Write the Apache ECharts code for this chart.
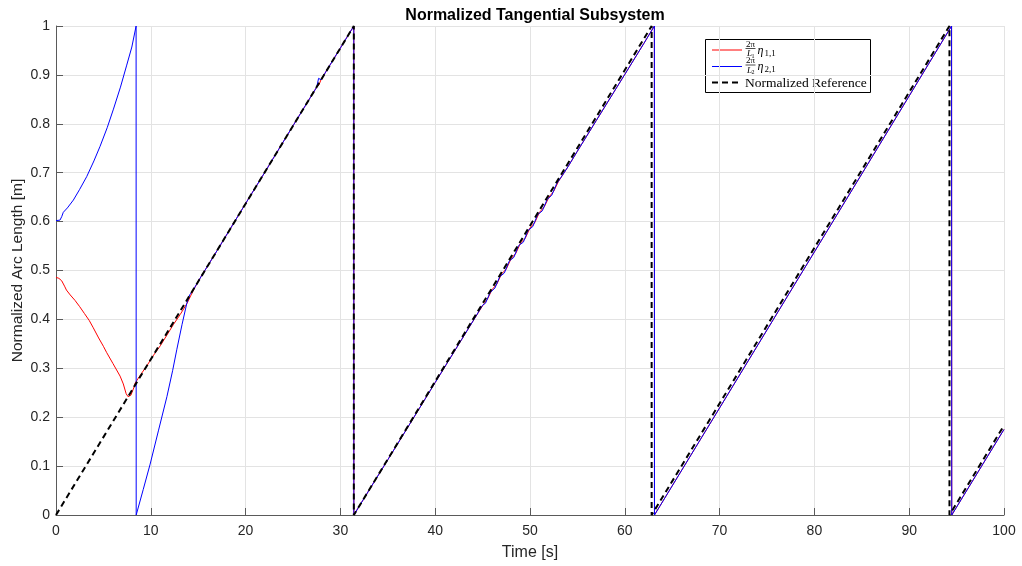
<!DOCTYPE html>
<html>
<head>
<meta charset="utf-8">
<script src="https://cdn.jsdelivr.net/npm/echarts@6/dist/echarts.min.js"></script>
<style>html,body{margin:0;padding:0;background:#fff;}#c{width:1022px;height:566px;}</style>
</head>
<body>
<div id="c"></div>
<script>
// ---- data (time [s], normalized value) ----
const titleText = 'Normalized Tangential Subsystem';
const xName = 'Time [s]';
const yName = 'Normalized Arc Length [m]';
const refName = 'Normalized Reference';

const refData = [[0,0],[31.416,1],[31.416,0],[62.832,1],[62.832,0],[94.248,1],[94.248,0],[100,0.1831]];

const commonTail = [
  [17,0.541],[20,0.637],[22,0.700],[25,0.796],[27.5,0.875]
];
const redP1 = [
  [0,0.486],[0.3,0.484],[0.6,0.479],[0.9,0.468],[1.1,0.460],[1.5,0.450],[2.0,0.439],[2.5,0.426],
  [3.0,0.412],[3.5,0.398],[3.9,0.384],[4.5,0.362],[5.0,0.345],[5.35,0.332],[6.0,0.310],[6.76,0.284],
  [7.1,0.268],[7.4,0.248],[7.6,0.242],[7.75,0.241],[7.9,0.245],[8.0,0.249],[8.2,0.260],[8.35,0.270],
  [9.0,0.289],[9.58,0.305],[10.3,0.327],[11.0,0.346],[11.7,0.368],[12.4,0.390],[13.1,0.410],
  [13.8,0.432],[14.5,0.460],[15.1,0.481]
];
const redBump = [[27.75,0.880],[27.85,0.879],[27.95,0.890],[28.2,0.898],[30,0.955],[31.416,1],[31.42,0]];
const redP2 = [
  [33,0.050],[35,0.113],[37,0.176],[40,0.271],[42,0.334],[44,0.397],[45,0.428],[45.5,0.441],
  [46,0.461],[46.5,0.472],[47,0.493],[47.5,0.503],[48,0.524],[48.5,0.535],[49,0.556],[49.5,0.566],
  [50,0.587],[50.5,0.598],[51,0.619],[51.5,0.630],[52,0.650],[52.5,0.662],[53,0.682],[54,0.712],
  [55,0.744],[57,0.807],[60,0.901],[62,0.964],[63.12,1.0],[63.13,0]
];
const bluP2 = [
  [33,0.050],[35,0.113],[37,0.176],[40,0.271],[42,0.334],[44,0.397],[45,0.429],[45.3,0.433],
  [45.8,0.455],[46.3,0.464],[46.8,0.487],[47.3,0.495],[47.8,0.519],[48.3,0.527],[48.8,0.551],
  [49.3,0.558],[49.8,0.582],[50.3,0.590],[50.8,0.614],[51.3,0.622],[51.8,0.645],[52.3,0.654],
  [52.8,0.677],[53.5,0.697],[54,0.712],[55,0.744],[57,0.807],[60,0.901],[62,0.964],[63.12,1.0],[63.13,0]
];
const tailP34 = [[70,0.219],[80,0.538],[90,0.857],[94.47,1.0],[94.49,0],[100,0.175]];

const bluP1 = [
  [0,0.602],[0.42,0.603],[0.6,0.610],[0.77,0.619],[1.2,0.628],[1.83,0.644],[2.5,0.666],[3.24,0.692],
  [4.0,0.724],[4.65,0.754],[5.4,0.792],[6.06,0.830],[6.8,0.875],[7.46,0.920],[8.0,0.957],[8.45,1.0],
  [8.46,0],[9.2,0.052],[9.93,0.104],[10.8,0.172],[11.7,0.242],[12.3,0.295],[12.75,0.339],[13.3,0.390],
  [13.8,0.433],[14.1,0.450],[14.5,0.461],[15.1,0.481]
];
const bluBump = [[27.6,0.878],[27.7,0.893],[27.8,0.889],[27.95,0.890],[28.2,0.898],[30,0.955],[31.416,1],[31.42,0]];

const redData = redP1.concat(commonTail, redBump, redP2, tailP34);
const bluData = bluP1.concat(commonTail, bluBump, bluP2, tailP34);

const xTicks = {min:0, max:100, interval:10};
const yTicks = {min:0, max:1, interval:0.1};

// ---- chart ----
const chart = echarts.init(document.getElementById('c'), null, {renderer:'canvas'});
const tickFont = "'Liberation Sans',Arial,sans-serif";
const serif = "'Liberation Serif','DejaVu Serif',serif";
const axisCol = '#262626';
const gridCol = '#e3e3e3';

function fracLegend(y, color, sub, eta) {
  return [
    {type:'line', shape:{x1:712,y1:y,x2:742,y2:y}, style:{stroke:color,lineWidth:1}},
    {type:'text', x:750.5, y:y-5.5, style:{text:'2π', font:'9px '+serif, fill:'#000', align:'center', verticalAlign:'middle'}},
    {type:'line', shape:{x1:745.5,y1:y-1.5,x2:755.5,y2:y-1.5}, style:{stroke:'#000',lineWidth:0.7}},
    {type:'text', x:749.5, y:y+4, style:{text:'L', font:'italic 9px '+serif, fill:'#000', align:'center', verticalAlign:'middle'}},
    {type:'text', x:753, y:y+6, style:{text:sub, font:'6px '+serif, fill:'#000', align:'center', verticalAlign:'middle'}},
    {type:'text', x:757.5, y:y+0.5, style:{text:'η', font:'italic 12px '+serif, fill:'#000', align:'left', verticalAlign:'middle'}},
    {type:'text', x:764.5, y:y+3.5, style:{text:eta, font:'9px '+serif, fill:'#000', align:'left', verticalAlign:'middle'}}
  ];
}

const option = {
  animation:false,
  backgroundColor:'#ffffff',
  title:{text:titleText, left:530, textAlign:'center', top:3,
    textStyle:{fontFamily:"'Liberation Sans',Arial,sans-serif", fontSize:16, fontWeight:'bold', color:'#000'}},
  grid:{left:56, right:18, top:26, bottom:51, containLabel:false, outerBoundsMode:'none'},
  xAxis:{type:'value', min:xTicks.min, max:xTicks.max, interval:xTicks.interval,
    name:xName, nameLocation:'middle', nameGap:30,
    nameTextStyle:{fontFamily:tickFont, fontSize:16, color:axisCol},
    axisLine:{onZero:false, lineStyle:{color:'#5a5a5a', width:1}},
    axisTick:{inside:true, length:7, lineStyle:{color:'#5a5a5a'}},
    axisLabel:{fontFamily:tickFont, fontSize:14, color:axisCol, margin:9},
    splitLine:{show:true, lineStyle:{color:gridCol, width:1}}},
  yAxis:{type:'value', min:yTicks.min, max:yTicks.max, interval:yTicks.interval,
    name:yName, nameLocation:'middle', nameGap:30, nameMoveOverlap:false,
    nameTextStyle:{fontFamily:tickFont, fontSize:15.5, color:axisCol},
    axisLine:{show:true, onZero:false, lineStyle:{color:'#5a5a5a', width:1}},
    axisTick:{show:true, inside:true, length:7, lineStyle:{color:'#5a5a5a'}},
    axisLabel:{fontFamily:tickFont, fontSize:14, color:axisCol, margin:6},
    splitLine:{show:true, lineStyle:{color:gridCol, width:1}}},
  series:[
    {name:'eta11', type:'line', data:redData, showSymbol:false, symbol:'none',
      lineStyle:{color:'#ff0000', width:1}, z:2},
    {name:'eta21', type:'line', data:bluData, showSymbol:false, symbol:'none',
      lineStyle:{color:'#0000ff', width:1}, z:3},
    {name:refName, type:'line', data:refData, showSymbol:false, symbol:'none',
      lineStyle:{color:'#000000', width:2, type:[6,4]}, z:4}
  ],
  graphic:[
    {type:'group', z:100, children:[
      {type:'rect', shape:{x:705.5,y:39.5,width:165,height:53}, style:{fill:'#fff', stroke:'#000', lineWidth:1}}
    ].concat(
      fracLegend(50,'#ff0000','1','1,1'),
      fracLegend(66.5,'#0000ff','2','2,1'),
      [
        {type:'line', shape:{x1:712,y1:82.5,x2:742,y2:82.5}, style:{stroke:'#000',lineWidth:2,lineDash:[6,4]}},
        {type:'text', x:745, y:83, style:{text:refName, font:'13.5px '+serif, fill:'#000', align:'left', verticalAlign:'middle'}}
      ]
    )}
  ]
};
chart.setOption(option);
</script>
</body>
</html>
